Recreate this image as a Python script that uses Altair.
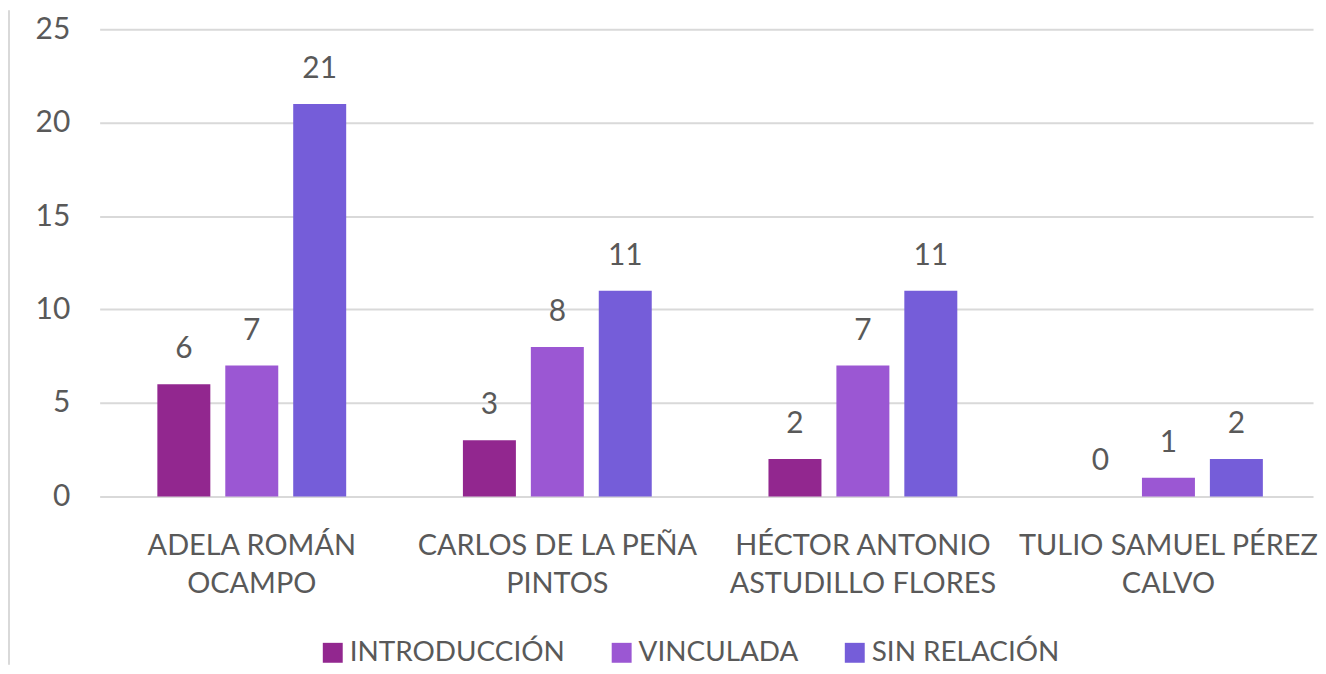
import altair as alt
import pandas as pd

categories = [
    ["ADELA ROMÁN", "OCAMPO"],
    ["CARLOS DE LA PEÑA", "PINTOS"],
    ["HÉCTOR ANTONIO", "ASTUDILLO FLORES"],
    ["TULIO SAMUEL PÉREZ", "CALVO"],
]
series = ["INTRODUCCIÓN", "VINCULADA", "SIN RELACIÓN"]
introduccion = [6, 3, 2, 0]
vinculada = [7, 8, 7, 1]
sin_relacion = [21, 11, 11, 2]
colors = ["#92278F", "#9B57D3", "#755DD9"]
y_ticks = [0, 5, 10, 15, 20, 25]

cat_names = ["\n".join(c) for c in categories]
rows = []
for i, name in enumerate(cat_names):
    for s, vals in zip(series, [introduccion, vinculada, sin_relacion]):
        rows.append({"candidato": name, "serie": s, "valor": vals[i]})
df = pd.DataFrame(rows)

FONT = "Lato"
GRAY = "#595959"

x = alt.X(
    "candidato:N",
    sort=cat_names,
    scale=alt.Scale(paddingInner=0.382, paddingOuter=0.1765, align=0.535),
    axis=alt.Axis(
        title=None, labelAngle=0, labelExpr="split(datum.label, '\\n')",
        labelFontSize=29, labelFont=FONT, labelColor=GRAY, labelPadding=35,
        labelLineHeight=38, ticks=False, domain=False, grid=False, labelLimit=500,
    ),
)
xo = alt.XOffset("serie:N", sort=series, scale=alt.Scale(paddingInner=0.22, paddingOuter=0))
y = alt.Y(
    "valor:Q",
    scale=alt.Scale(domain=[0, 25]),
    axis=alt.Axis(
        values=y_ticks, title=None, labelFontSize=30, labelFont=FONT, labelColor=GRAY,
        labelPadding=30, ticks=False, domain=False, gridColor="#D9D9D9", gridWidth=2,
    ),
)
color = alt.Color(
    "serie:N",
    scale=alt.Scale(domain=series, range=colors),
    legend=alt.Legend(
        title=None, orient="none", legendX=220, legendY=612, direction="horizontal",
        symbolType="square", symbolSize=400, labelFontSize=28, labelFont=FONT,
        labelColor=GRAY, columnPadding=42, labelOffset=3, padding=0, symbolStrokeWidth=0,
        labelLimit=400,
    ),
)

base = alt.Chart(df)
bars = base.mark_bar().encode(x=x, xOffset=xo, y=y, color=color)
labels = base.mark_text(dy=-26, baseline="alphabetic", fontSize=30, font=FONT, color=GRAY).encode(
    x=x, xOffset=xo, y=y, text="valor:Q"
)
border = alt.Chart(pd.DataFrame({"a": [0]})).mark_rule(color="#D9D9D9", strokeWidth=2).encode(
    x=alt.value(-91), y=alt.value(-19), y2=alt.value(638)
)

chart = (
    alt.layer(bars, labels, border)
    .properties(width=1218, height=469, padding={"left": 0, "top": 0, "right": 0, "bottom": 0})
    .configure_view(stroke=None)
)
chart.save("out.html", embed_options={"renderer": "svg", "actions": False})
